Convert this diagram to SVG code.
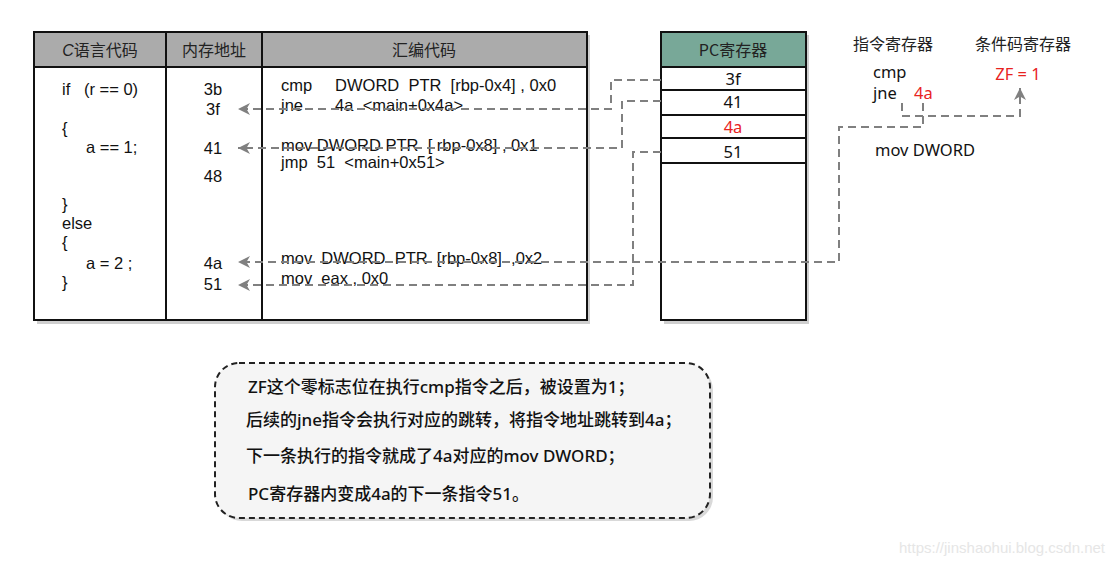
<svg xmlns="http://www.w3.org/2000/svg" width="1116" height="564" viewBox="0 0 1116 564">
<defs>
<style>
.t{font-family:"Liberation Sans","Noto Sans CJK SC",sans-serif;font-size:16.5px;fill:#111}
.h{font-family:"Noto Sans CJK SC","Liberation Sans",sans-serif;font-size:16px;fill:#222;text-anchor:middle}
.c{font-family:"Noto Sans","Noto Sans CJK SC",sans-serif;font-size:16.5px;fill:#111}
.n{font-family:"Noto Sans","Noto Sans CJK SC",sans-serif;font-size:17px;fill:#111;font-weight:500}
.red{fill:#e8231f}
.box{fill:#fff;stroke:#111;stroke-width:2}
.sh{fill:#cfcfcf}
.ln{stroke:#111;stroke-width:2;fill:none}
.dc{fill:none;stroke:#808080;stroke-width:2;stroke-dasharray:8 5}
</style>
<marker id="ar" markerUnits="userSpaceOnUse" markerWidth="14" markerHeight="12" refX="12" refY="6" orient="auto" viewBox="0 0 14 12">
<path d="M0,0 L12,6 L0,12 L3.5,6 Z" fill="#808080"/>
</marker>
</defs>
<rect width="1116" height="564" fill="#fff"/>

<g id="table">
<rect class="sh" x="37" y="35" width="553" height="289"/>
<rect class="box" x="34" y="32" width="553" height="288"/>
<rect x="34" y="32" width="553" height="35" fill="#ababab" stroke="#111" stroke-width="2"/>
<line class="ln" x1="166" y1="32" x2="166" y2="320"/>
<line class="ln" x1="262" y1="32" x2="262" y2="320"/>
<text class="h" x="100" y="56"><tspan font-style="italic" font-family="Liberation Sans">C</tspan>语言代码</text>
<text class="h" x="214" y="56">内存地址</text>
<text class="h" x="424" y="56">汇编代码</text>
</g>

<g id="c-code">
<text class="t" x="62" y="95" xml:space="preserve">if   (r == 0)</text>
<text class="t" x="62" y="134">{</text>
<text class="t" x="86" y="153">a == 1;</text>
<text class="t" x="62" y="210">}</text>
<text class="t" x="62" y="229">else</text>
<text class="t" x="62" y="248">{</text>
<text class="t" x="86" y="269">a = 2 ;</text>
<text class="t" x="62" y="288">}</text>
</g>

<g id="addresses">
<text class="t" x="213" y="95" text-anchor="middle">3b</text>
<text class="t" x="213" y="115" text-anchor="middle">3f</text>
<text class="t" x="213" y="154" text-anchor="middle">41</text>
<text class="t" x="213" y="182" text-anchor="middle">48</text>
<text class="t" x="213" y="269" text-anchor="middle">4a</text>
<text class="t" x="213" y="290" text-anchor="middle">51</text>
</g>

<g id="assembly">
<text class="t" x="281" y="91" xml:space="preserve">cmp     DWORD  PTR  [rbp-0x4] , 0x0</text>
<text class="t" x="281" y="111" xml:space="preserve">jne       4a  &lt;main+0x4a&gt;</text>
<text class="t" x="281" y="151" xml:space="preserve">mov DWORD PTR  [ rbp-0x8] , 0x1</text>
<text class="t" x="281" y="168" xml:space="preserve">jmp  51  &lt;main+0x51&gt;</text>
<text class="t" x="281" y="264" xml:space="preserve">mov  DWORD  PTR  [rbp-0x8]  ,0x2</text>
<text class="t" x="281" y="284" xml:space="preserve">mov  eax , 0x0</text>
</g>

<g id="pc-register">
<rect class="sh" x="664" y="35" width="145" height="289"/>
<rect class="box" x="661" y="32" width="145" height="288"/>
<rect x="661" y="32" width="145" height="35" fill="#78a898" stroke="#111" stroke-width="2"/>
<line class="ln" x1="661" y1="67" x2="806" y2="67"/>
<line class="ln" x1="661" y1="90" x2="806" y2="90"/>
<line class="ln" x1="661" y1="115" x2="806" y2="115"/>
<line class="ln" x1="661" y1="138" x2="806" y2="138"/>
<line class="ln" x1="661" y1="163" x2="806" y2="163"/>
<text class="h" x="733" y="56" font-family="Noto Sans, Noto Sans CJK SC, sans-serif">PC寄存器</text>
<text class="c" x="733" y="85" text-anchor="middle">3f</text>
<text class="c" x="733" y="108" text-anchor="middle">41</text>
<text class="c red" x="733" y="133" text-anchor="middle">4a</text>
<text class="c" x="733" y="158" text-anchor="middle">51</text>
</g>

<g id="instr-register">
<text class="h" x="893" y="50" font-size="16.5">指令寄存器</text>
<text class="c" x="873" y="78" font-size="15.5">cmp</text>
<text class="c" x="873" y="99" font-size="15.5">jne</text>
<text class="c red" x="914" y="99">4a</text>
<text class="c" x="875" y="156">mov DWORD</text>
</g>

<g id="cc-register">
<text class="h" x="1023" y="50" font-size="16.5">条件码寄存器</text>
<text class="c red" x="1018" y="80" text-anchor="middle">ZF = 1</text>
</g>

<g id="connectors">
<path class="dc" d="M661,80 H611 V109 H238" marker-end="url(#ar)"/>
<path class="dc" d="M661,101 H622 V148 H238" marker-end="url(#ar)"/>
<path class="dc" d="M661,152 H633 V285 H238" marker-end="url(#ar)"/>
<path class="dc" d="M923,103 V127 H839 V262 H238" marker-end="url(#ar)"/>
<path class="dc" d="M902,103 V116 H1020 V88" marker-end="url(#ar)"/>
</g>

<g id="note">
<rect x="218" y="366" width="495" height="155" rx="24" fill="#d9d9d9"/>
<rect x="215" y="363" width="495" height="155" rx="24" fill="#f5f5f5" stroke="#222" stroke-width="2" stroke-dasharray="6 4"/>
<text class="n" x="248" y="393">ZF这个零标志位在执行cmp指令之后，被设置为1；</text>
<text class="n" x="246" y="426">后续的jne指令会执行对应的跳转，将指令地址跳转到4a；</text>
<text class="n" x="246" y="462">下一条执行的指令就成了4a对应的mov DWORD；</text>
<text class="n" x="248" y="500">PC寄存器内变成4a的下一条指令51。</text>
</g>

<text x="1105" y="553" text-anchor="end" font-family="Liberation Sans, sans-serif" font-size="15" fill="#e6e6e6">https://jinshaohui.blog.csdn.net</text>
</svg>
